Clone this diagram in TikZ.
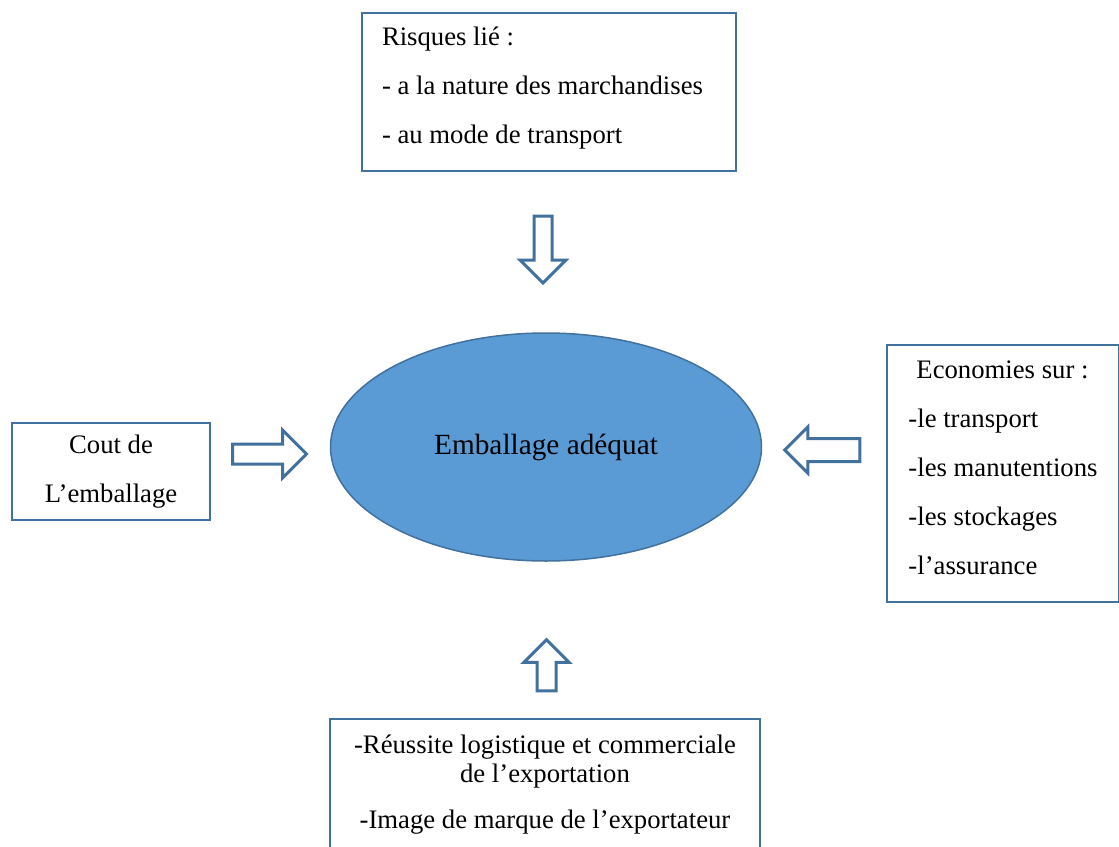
\documentclass[tikz,border=0pt]{standalone}
\usepackage{fontspec}
\setmainfont{Liberation Serif}
\usetikzlibrary{shapes.geometric, shapes.arrows}
\definecolor{edgeBlue}{HTML}{41719C}
\definecolor{ovalBlue}{HTML}{5B9BD5}

\begin{document}
\begin{tikzpicture}[x=1pt, y=-1pt,
    txtbox/.style={rectangle, draw=edgeBlue, line width=2pt, inner sep=0pt,
      font=\fontsize{26.7}{49}\selectfont},
    barrow/.style={single arrow, draw=edgeBlue, line width=3pt, fill=white,
      inner xsep=0pt, minimum width=0pt, single arrow head indent=0pt}
  ]
  \useasboundingbox (0,0) rectangle (1119,846);
  % centre
  \node[ellipse, draw=edgeBlue, line width=1.5pt, fill=ovalBlue, inner sep=0pt,
    minimum width=431, minimum height=228, font=\fontsize{29.3}{34}\selectfont]
    (pack) at (546,447) {Emballage adéquat};
  % boxes around
  \node[txtbox, minimum width=374, minimum height=158, text width=334, align=flush left]
    (risk) at (549,92) {Risques lié :\\- a la nature des marchandises\\- au mode de transport\rule[-13pt]{0pt}{13pt}};
  \node[txtbox, minimum width=198, minimum height=97, align=center]
    (cost) at (111,471.5) {Cout de\\L’emballage};
  \node[txtbox, minimum width=232, minimum height=257, align=left]
    (save) at (1003,473.5) {\hspace*{8pt}Economies sur :\\-le transport\\-les manutentions\\-les stockages\\-l’assurance\rule[-12pt]{0pt}{12pt}};
  \node[txtbox, anchor=north, minimum width=430, inner ysep=15.5, align=center,
    font=\fontsize{26.7}{29}\selectfont]
    (gain) at (545,718) {-Réussite logistique et commerciale\\de l’exportation\\[17pt]-Image de marque de l’exportateur\rule[-40pt]{0pt}{40pt}};
  % block arrows
  \node[barrow, rotate=-90, minimum height=67, inner ysep=7.5, single arrow head extend=14]
    (down) at (543,245) {};
  \node[barrow, minimum height=74, inner ysep=8.5, single arrow head extend=14]
    (right) at (264.5,454) {};
  \node[barrow, rotate=180, minimum height=75, inner ysep=10, single arrow head extend=11.5]
    (left) at (828,450) {};
  \node[barrow, rotate=90, minimum height=51, inner ysep=8, single arrow head extend=13]
    (up) at (546.5,670) {};
\end{tikzpicture}
\end{document}
